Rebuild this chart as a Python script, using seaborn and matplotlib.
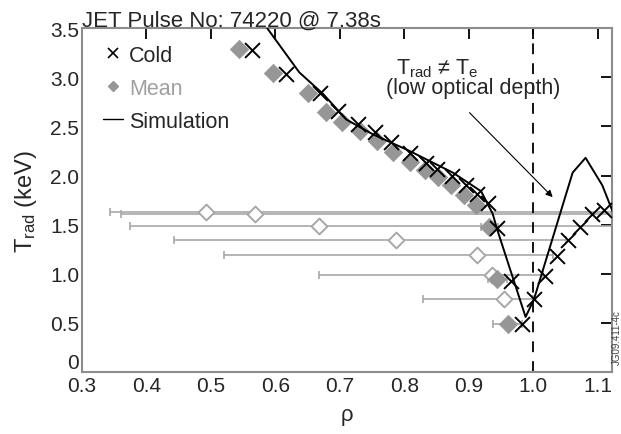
import numpy as np
import pandas as pd
import matplotlib
matplotlib.use("Agg")
import matplotlib.pyplot as plt
import seaborn as sns
from matplotlib.lines import Line2D
from matplotlib.ticker import FuncFormatter

# Cold channel temperatures
cold_rho = [0.564, 0.616, 0.669, 0.697, 0.728, 0.754, 0.779, 0.808, 0.834, 0.850,
            0.874, 0.896, 0.912, 0.929, 0.944, 0.965, 0.983, 1.001, 1.018, 1.036,
            1.054, 1.073, 1.091, 1.110]
cold_t = [3.28, 3.03, 2.84, 2.66, 2.52, 2.44, 2.34, 2.23, 2.13, 2.07,
          2.00, 1.90, 1.81, 1.72, 1.47, 0.93, 0.49, 0.74, 0.98, 1.18,
          1.34, 1.48, 1.61, 1.65]

# Mean (filled) points
mean_rho = [0.543, 0.596, 0.650, 0.678, 0.704, 0.731, 0.757, 0.783, 0.808, 0.832,
            0.852, 0.872, 0.893, 0.911, 0.932, 0.944, 0.960]
mean_t = [3.29, 3.04, 2.84, 2.65, 2.54, 2.45, 2.35, 2.24, 2.14, 2.06,
          1.98, 1.90, 1.80, 1.70, 1.48, 0.95, 0.49]
# small error bars on the last three mean points
mean_err_rho = [0.932, 0.944, 0.960]
mean_err_t = [1.48, 0.95, 0.49]
mean_err_lo = [0.919, 0.929, 0.938]
mean_err_hi = [0.945, 0.959, 0.982]

# Mean (open) points with wide error bars
open_rho = [0.493, 0.568, 0.668, 0.787, 0.912, 0.936, 0.955]
open_t = [1.63, 1.61, 1.49, 1.34, 1.19, 0.99, 0.74]
open_lo = [0.344, 0.360, 0.374, 0.442, 0.520, 0.668, 0.829]
open_hi = [1.25, 1.25, 1.25, 1.05, 1.03, 1.015, 1.0]

# Simulation curve
sim_rho = [0.585, 0.637, 0.674, 0.710, 0.751, 0.808, 0.875, 0.919, 0.937, 0.944,
           0.988, 1.001, 1.061, 1.081, 1.107, 1.125]
sim_t = [3.52, 3.05, 2.83, 2.57, 2.42, 2.25, 2.03, 1.84, 1.61, 1.45,
         0.56, 0.74, 2.03, 2.18, 1.90, 1.60]

sns.set_theme(style="white")
plt.rcParams["font.family"] = ["Liberation Sans", "DejaVu Sans"]
plt.rcParams["mathtext.fontset"] = "custom"
plt.rcParams["mathtext.rm"] = "Liberation Sans"
plt.rcParams["mathtext.it"] = "Liberation Sans"

GRAY = "#969696"
EGRAY = "#a8a8a8"
SPINE = "#8c8c8c"

fig, ax = plt.subplots(figsize=(6.21, 4.35), dpi=100)
fig.subplots_adjust(left=0.132, right=0.9855, top=0.933, bottom=0.1425)

# wide error bars with open diamonds
xerr = [np.array(open_rho) - np.array(open_lo), np.array(open_hi) - np.array(open_rho)]
ax.errorbar(open_rho, open_t, xerr=xerr, fmt="none", ecolor=EGRAY,
            elinewidth=1.2, capsize=3, capthick=1.2, zorder=1)
xerr2 = [np.array(mean_err_rho) - np.array(mean_err_lo), np.array(mean_err_hi) - np.array(mean_err_rho)]
ax.errorbar(mean_err_rho, mean_err_t, xerr=xerr2, fmt="none", ecolor=EGRAY,
            elinewidth=1.2, capsize=3, capthick=1.2, zorder=1)

open_df = pd.DataFrame({"rho": open_rho, "t": open_t})
sns.scatterplot(data=open_df, x="rho", y="t", marker="D", s=65, facecolor="white",
                edgecolor=EGRAY, linewidth=1.4, ax=ax, zorder=2)

mean_df = pd.DataFrame({"rho": mean_rho, "t": mean_t})
sns.scatterplot(data=mean_df, x="rho", y="t", marker="D", s=88, color=GRAY,
                edgecolor=GRAY, linewidth=0.5, ax=ax, zorder=3)

cold_df = pd.DataFrame({"rho": cold_rho, "t": cold_t})
sns.scatterplot(data=cold_df, x="rho", y="t", marker="x", s=115, color="black",
                linewidth=1.4, ax=ax, zorder=4)

sim_df = pd.DataFrame({"rho": sim_rho, "t": sim_t})
sns.lineplot(data=sim_df, x="rho", y="t", sort=False, color="black", lw=1.4,
             ax=ax, zorder=5)

ax.axvline(1.0, color="black", lw=1.3, ls=(0, (6, 5)), zorder=1)

ax.set_xlim(0.3, 1.122)
ax.set_ylim(0, 3.5)
ax.set_xticks(np.arange(0.3, 1.11, 0.1))
ax.set_yticks(np.arange(0, 3.51, 0.5))
ax.xaxis.set_major_formatter(FuncFormatter(lambda v, p: f"{v:.1f}"))
ax.yaxis.set_major_formatter(FuncFormatter(lambda v, p: "0" if abs(v) < 1e-9 else f"{v:.1f}"))
ax.tick_params(direction="in", length=8, width=1.3, color="black", labelsize=15,
               top=True, right=True, pad=3)
ax.tick_params(axis="y", pad=2)
ax.yaxis.get_major_ticks()[0].label1.set_verticalalignment("bottom")
for s in ax.spines.values():
    s.set_color(SPINE)
    s.set_linewidth(1.5)

ax.set_xlabel("ρ", fontsize=16, labelpad=6)
ax.set_ylabel(r"T$_\mathrm{rad}$ (keV)", fontsize=17, labelpad=8)
ax.set_title("JET Pulse No: 74220 @ 7.38s", loc="left", fontsize=16, pad=2)

ax.text(0.787, 3.10, r"T$_\mathrm{rad}$ ≠ T$_\mathrm{e}$", fontsize=15.5, va="center")
ax.text(0.772, 2.90, "(low optical depth)", fontsize=15.5, va="center")
ax.annotate("", xy=(1.030, 1.78), xytext=(0.901, 2.64),
            arrowprops=dict(arrowstyle="-|>", color="black", lw=0.8,
                            mutation_scale=10, shrinkA=0, shrinkB=0))

handles = [
    Line2D([], [], marker="x", color="black", ls="none", markersize=7, mew=1.2),
    Line2D([], [], marker="D", color=GRAY, ls="none", markersize=5),
    Line2D([], [], color="black", lw=1.0),
]
leg = ax.legend(handles, ["Cold", "Mean", "Simulation"], loc="upper left",
                bbox_to_anchor=(0.012, 0.995), frameon=False, fontsize=15.5,
                handlelength=0.9, handletextpad=0.3, labelspacing=0.55,
                borderaxespad=0.3)
leg.get_texts()[1].set_color("#a0a0a0")

fig.text(0.993, 0.16, "JG09.411-4c", rotation=90, fontsize=7, color="#444444",
         ha="center", va="bottom")

fig.savefig("out.png", dpi=100)
